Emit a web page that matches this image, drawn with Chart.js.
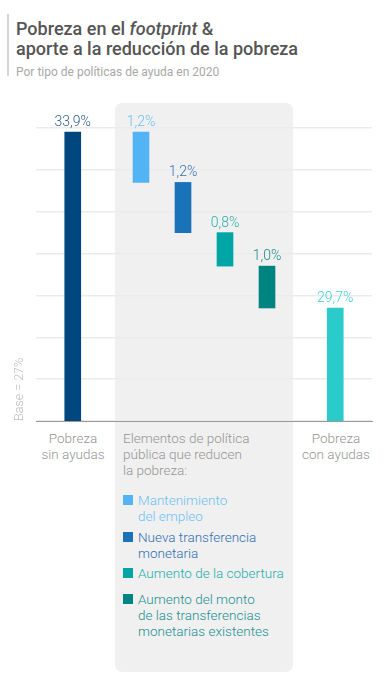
<!DOCTYPE html>
<html lang="es">
<head>
<meta charset="utf-8">
<title>Pobreza en el footprint</title>
<script src="https://cdn.jsdelivr.net/npm/chart.js@4.4.1/dist/chart.umd.min.js"></script>
<style>
  html, body { margin: 0; padding: 0; background: #fff; }
  body { width: 384px; height: 684px; position: relative; overflow: hidden; font-family: Roboto, "Noto Sans", sans-serif; }
  .barra-titulo { position: absolute; left: 7px; top: 14px; width: 2px; height: 62px; background: #d4d4d4; }
  h1 { position: absolute; left: 16px; top: 19px; margin: 0; font-size: 18px; line-height: 20px; font-weight: 500; color: #555; }
  h1 em { font-style: italic; }
  .subtitulo { position: absolute; left: 16px; top: 65px; margin: 0; font-size: 12px; line-height: 14px; font-weight: 400; color: #a8a8a8; }
  .panel { position: absolute; left: 115px; top: 103px; width: 178px; height: 569px; background: #f0f0f0; border-radius: 7px; }
  #grafico { position: absolute; left: 0; top: 100px; }
  .cat { position: absolute; top: 430px; font-size: 13.5px; line-height: 16px; font-weight: 300; color: #959595; }
  .cat.centro { text-align: center; width: 90px; }
  .leyenda { position: absolute; left: 138px; font-size: 13.5px; line-height: 16px; font-weight: 300; }
  .leyenda span { position: absolute; left: -15px; top: 3px; width: 10px; height: 10px; }
</style>
</head>
<body>
<div class="barra-titulo"></div>
<h1>Pobreza en el <em>footprint</em> &amp;<br>aporte a la reducción de la pobreza</h1>
<p class="subtitulo">Por tipo de políticas de ayuda en 2020</p>

<div class="panel"></div>
<canvas id="grafico" width="384" height="330"></canvas>

<div class="cat centro" style="left:28px">Pobreza<br>sin ayudas</div>
<div class="cat" style="left:123px">Elementos de política<br>pública que reducen<br>la pobreza:</div>
<div class="cat centro" style="left:291px">Pobreza<br>con ayudas</div>

<div id="leyenda"></div>

<script>
// datos (en % de pobreza)
const base = 27;
const pobrezaSinAyudas = 33.9;
const reducciones = [1.2, 1.2, 0.8, 1.0];
const pobrezaConAyudas = 29.7;
const elementos = [
  'Mantenimiento<br>del empleo',
  'Nueva transferencia<br>monetaria',
  'Aumento de la cobertura',
  'Aumento del monto<br>de las transferencias<br>monetarias existentes'
];

// colores de barras y de etiquetas
const coloresBarras = ['#00467f', '#52b4f5', '#1a72b8', '#00a5a5', '#008482', '#2ccbcb'];
const coloresTexto = ['#2f5a94', '#6cc1f5', '#2f73b5', '#2aaeae', '#1a8c8a', '#3fd2d2'];
const coloresLeyenda = ['#6cc1f5', '#2f6fb2', '#22aeae', '#1a9190'];

// posicion de cada barra en el eje x (unidades del eje lineal 0..8)
const posiciones = [0.875, 2.5, 3.5, 4.5, 5.5, 7.125];

// barras flotantes tipo cascada
let nivel = pobrezaSinAyudas;
const barras = [{ x: posiciones[0], y: [base, pobrezaSinAyudas] }];
const valores = [pobrezaSinAyudas];
reducciones.forEach((r, i) => {
  const abajo = +(nivel - r).toFixed(1);
  barras.push({ x: posiciones[i + 1], y: [abajo, nivel] });
  valores.push(r);
  nivel = abajo;
});
barras.push({ x: posiciones[5], y: [base, pobrezaConAyudas] });
valores.push(pobrezaConAyudas);

const fmt = v => v.toFixed(1).replace('.', ',') + '%';

// etiquetas de valor encima de cada barra
const valoresPlugin = {
  id: 'valores',
  afterDatasetsDraw(chart) {
    const ctx = chart.ctx;
    const meta = chart.getDatasetMeta(0);
    ctx.save();
    ctx.font = '300 14px Roboto, "Noto Sans", sans-serif';
    ctx.textAlign = 'center';
    ctx.textBaseline = 'alphabetic';
    meta.data.forEach((bar, i) => {
      ctx.fillStyle = coloresTexto[i];
      ctx.fillText(fmt(valores[i]), bar.x, Math.min(bar.y, bar.base) - 6);
    });
    ctx.restore();
  }
};

const ctx = document.getElementById('grafico').getContext('2d');
new Chart(ctx, {
  type: 'bar',
  data: {
    datasets: [{
      data: barras,
      backgroundColor: coloresBarras,
      barThickness: 16,
      borderWidth: 0
    }]
  },
  options: {
    responsive: false,
    animation: false,
    layout: { padding: { top: 28, right: 12, bottom: 9, left: 12 } },
    plugins: {
      legend: { display: false },
      tooltip: { enabled: false }
    },
    scales: {
      x: {
        type: 'linear',
        min: 0,
        max: 8,
        offset: false,
        ticks: { display: false },
        grid: { display: false, drawTicks: false },
        border: { display: true, color: '#9a9a9a', width: 1 }
      },
      y: {
        min: base,
        max: 34,
        ticks: { display: false, stepSize: 1 },
        grid: { color: '#ebebeb', lineWidth: 1.5, drawTicks: false },
        border: { display: false },
        title: {
          display: true,
          text: 'Base = 27%',
          align: 'start',
          color: '#bdbdbd',
          font: { family: 'Roboto, "Noto Sans", sans-serif', size: 12.5, weight: '300' },
          padding: { top: 0, bottom: 9 }
        }
      }
    }
  },
  plugins: [valoresPlugin]
});

// leyenda dentro del panel gris
const topsLeyenda = [492, 529, 565, 591];
const leyenda = document.getElementById('leyenda');
elementos.forEach((txt, i) => {
  const div = document.createElement('div');
  div.className = 'leyenda';
  div.style.top = topsLeyenda[i] + 'px';
  div.style.color = coloresLeyenda[i];
  div.innerHTML = '<span style="background:' + coloresBarras[i + 1] + '"></span>' + txt;
  leyenda.appendChild(div);
});
</script>
</body>
</html>
